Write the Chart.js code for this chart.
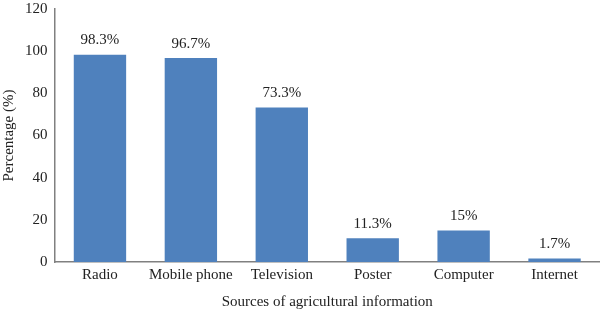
<!DOCTYPE html>
<html>
<head>
<meta charset="utf-8">
<script src="https://cdn.jsdelivr.net/npm/chart.js@4"></script>
<style>
    html, body { margin: 0; padding: 0; background: #fff; overflow: hidden; }
    #wrap { width: 600px; height: 321px; margin-top: -7px; }
</style>
</head>
<body>
<div id="wrap"><canvas id="chart"></canvas></div>
<script>
const categories = ["Radio", "Mobile phone", "Television", "Poster", "Computer", "Internet"];
const percentages = [98.3, 96.7, 73.3, 11.3, 15, 1.7];
const valueLabels = ["98.3%", "96.7%", "73.3%", "11.3%", "15%", "1.7%"];
const yTicks = [0, 20, 40, 60, 80, 100, 120];

const FONT = "'Liberation Serif', 'DejaVu Serif', serif";

// draws the value text over each bar
const barLabels = {
    id: 'barLabels',
    afterDatasetsDraw(chart) {
        const ctx = chart.ctx;
        const meta = chart.getDatasetMeta(0);
        ctx.save();
        ctx.font = `15px ${FONT}`;
        ctx.fillStyle = '#222';
        ctx.textAlign = 'center';
        ctx.textBaseline = 'bottom';
        meta.data.forEach((bar, i) => {
            ctx.fillText(valueLabels[i], bar.x, bar.y - 7);
        });
        ctx.restore();
    }
};

new Chart(document.getElementById('chart'), {
    type: 'bar',
    data: {
        labels: categories,
        datasets: [{
            data: percentages,
            backgroundColor: '#4f81bd',
            borderWidth: 0,
            barPercentage: 0.8,
            categoryPercentage: 0.72
        }]
    },
    plugins: [barLabels],
    options: {
        responsive: true,
        maintainAspectRatio: false,
        animation: false,
        layout: { padding: { top: 0, right: 0, left: 0, bottom: 3 } },
        plugins: {
            legend: { display: false },
            tooltip: { enabled: false }
        },
        scales: {
            x: {
                grid: { display: false, drawTicks: false },
                border: { color: '#808080', width: 1.5 },
                ticks: { color: '#222', font: { family: FONT, size: 15 }, padding: 4 },
                title: {
                    display: true,
                    text: 'Sources of agricultural information',
                    color: '#222',
                    font: { family: FONT, size: 15 },
                    padding: { top: 5, bottom: 0 }
                }
            },
            y: {
                min: 0,
                max: 120,
                afterBuildTicks(axis) { axis.ticks = yTicks.map(v => ({ value: v })); },
                grid: { display: false, drawTicks: false },
                border: { color: '#808080', width: 1.5 },
                ticks: { color: '#222', font: { family: FONT, size: 15 }, padding: 7 },
                title: {
                    display: true,
                    text: 'Percentage (%)',
                    color: '#222',
                    font: { family: FONT, size: 15 },
                    padding: { top: 0, bottom: 0 }
                }
            }
        }
    }
});
</script>
</body>
</html>
